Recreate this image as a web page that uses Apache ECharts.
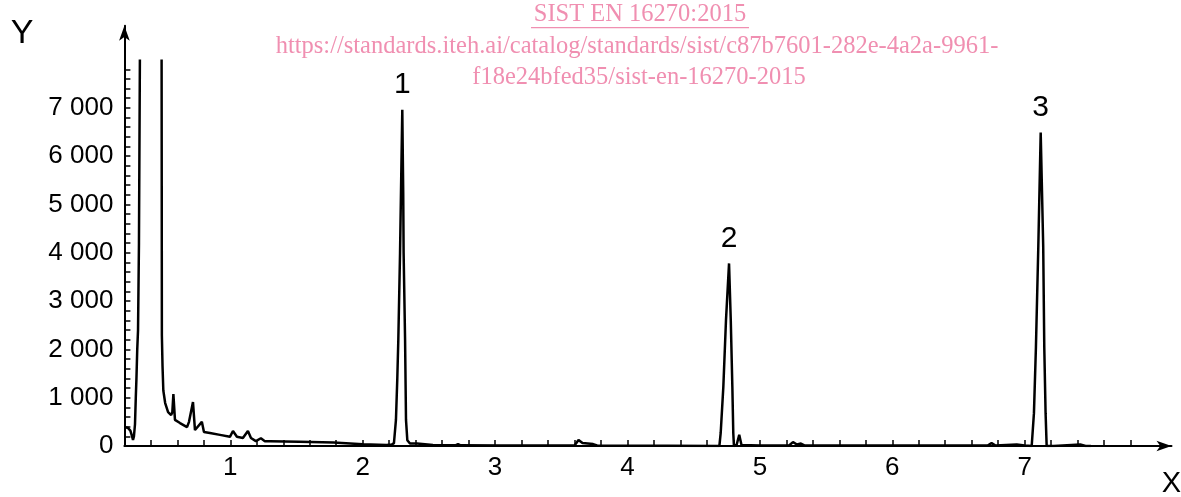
<!DOCTYPE html>
<html>
<head>
<meta charset="utf-8">
<script src="https://cdn.jsdelivr.net/npm/echarts@6/dist/echarts.min.js"></script>
<style>
html,body{margin:0;padding:0;background:#fff;}
#chart{width:1181px;height:497px;}
</style>
</head>
<body>
<div id="chart"></div>
<script>
// Retention time (X) and detector signal (Y); null = off-scale (clipped) section
const traceX = [0.200,0.225,0.245,0.258,0.265,0.272,0.280,0.286,0.291,0.297,0.303,0.310,0.317,0.400,
  0.481,0.483,0.488,0.494,0.508,0.530,0.553,0.562,0.570,0.582,0.620,0.673,0.688,0.718,0.733,0.748,0.785,0.801,0.846,0.922,0.997,
  1.020,1.050,1.095,1.133,1.156,1.193,1.231,1.261,1.300,1.520,1.780,2.000,2.180,2.220,
  2.236,2.251,2.261,2.269,2.282,2.289,2.299,2.306,2.309,2.320,2.327,2.337,2.357,2.410,2.530,2.700,2.720,2.740,3.040,
  3.600,3.630,3.660,3.740,3.770,4.300,
  4.694,4.704,4.724,4.744,4.767,4.780,4.792,4.799,4.804,4.824,4.844,4.861,5.000,5.220,5.250,5.280,5.310,5.340,5.800,
  6.720,6.750,6.780,6.940,7.000,
  7.053,7.070,7.085,7.103,7.121,7.140,7.148,7.158,7.166,7.180,7.220,7.420,7.460,7.500];
const traceY = [390,380,320,200,125,200,450,1000,1400,2000,2400,4200,8000,null,
  8000,2300,1650,1150,890,700,640,700,1075,540,475,390,500,910,330,290,500,290,270,230,190,
  310,190,165,310,165,100,160,100,100,90,70,35,20,30,
  60,540,1370,2200,4000,5240,6960,5240,4000,2200,540,120,50,50,20,15,40,15,10,
  10,125,60,40,10,5,
  0,270,1230,2610,3780,2610,1230,270,0,20,230,20,10,10,80,30,50,10,10,
  10,60,10,30,10,
  0,680,2050,4130,6490,4130,2050,680,0,40,0,30,0,0];

// Peak annotations
const peakNames = ['1','2','3'];
const peakX = [2.299, 4.767, 7.121];
const peakY = [6960, 3780, 6490];

// Axis ticks / labels
const xLabelValues = [1,2,3,4,5,6,7];
const yLabelValues = [0,1000,2000,3000,4000,5000,6000,7000];
const xTickValues = [];
for (let i = 2; i <= 39; i++) xTickValues.push(+(i * 0.2).toFixed(1));
const yTickValues = [];
for (let i = 0; i <= 39; i++) yTickValues.push(i * 200);

// Watermark lines
const watermark = [
  'SIST EN 16270:2015',
  'https://standards.iteh.ai/catalog/standards/sist/c87b7601-282e-4a2a-9961-',
  'f18e24bfed35/sist-en-16270-2015'
];

const pink = '#f08fb1';
const axisFont = 'Liberation Sans, Arial, sans-serif';
const serif = 'Liberation Serif, Times New Roman, serif';

const chart = echarts.init(document.getElementById('chart'), null, {renderer: 'canvas'});
const traceData = traceX.map((x, i) => [x, traceY[i] === null ? '-' : traceY[i]]);

chart.setOption({
  animation: false,
  backgroundColor: '#fff',
  title: [
    {text: watermark[0], left: 640, top: 2, textAlign: 'center', padding: 0,
     textStyle: {fontFamily: serif, fontSize: 24.5, fontWeight: 'normal', color: pink}},
    {text: watermark[1], left: 637, top: 34, textAlign: 'center', padding: 0,
     textStyle: {fontFamily: serif, fontSize: 24.5, fontWeight: 'normal', color: pink}},
    {text: watermark[2], left: 639, top: 65, textAlign: 'center', padding: 0,
     textStyle: {fontFamily: serif, fontSize: 24.5, fontWeight: 'normal', color: pink}}
  ],
  graphic: [
    {type: 'rect', left: 531, top: 27, shape: {width: 218, height: 1.2}, style: {fill: pink}}
  ],
  grid: {left: 124.4, right: 9.5, top: 25.8, bottom: 51, outerBoundsMode: 'none', containLabel: false},
  xAxis: {
    type: 'value', min: 0.2, max: 8.109,
    name: 'X', nameLocation: 'end', nameGap: 0,
    nameTextStyle: {fontFamily: axisFont, fontSize: 29, color: '#000', align: 'center', verticalAlign: 'top', padding: [23, 0, 0, 0]},
    axisLine: {onZero: false, symbol: ['none', 'arrow'], symbolSize: [8, 15], lineStyle: {color: '#000', width: 2}},
    axisTick: {inside: true, length: 6, customValues: xTickValues, lineStyle: {color: '#000', width: 1.5}},
    axisLabel: {customValues: xLabelValues, margin: 9, fontFamily: axisFont, fontSize: 26, color: '#000',
      formatter: v => String(Math.round(v))},
    splitLine: {show: false}
  },
  yAxis: {
    type: 'value', min: 0, max: 8700,
    name: 'Y', nameLocation: 'end', nameGap: -8,
    nameTextStyle: {fontFamily: axisFont, fontSize: 34, color: '#000', align: 'right', verticalAlign: 'middle', padding: [0, 91, 0, 0]},
    axisLine: {show: true, onZero: false, symbol: ['none', 'arrow'], symbolSize: [8, 15], lineStyle: {color: '#000', width: 2}},
    axisTick: {show: true, inside: true, length: 6, customValues: yTickValues, lineStyle: {color: '#000', width: 1.5}},
    axisLabel: {customValues: yLabelValues, margin: 11, fontFamily: axisFont, fontSize: 26, color: '#000',
      formatter: v => String(v).replace(/\B(?=(\d{3})+(?!\d))/g, ' ')},
    splitLine: {show: false}
  },
  series: [
    {
      type: 'line', data: traceData, showSymbol: false, symbol: 'none', connectNulls: false,
      lineStyle: {color: '#000', width: 2.5}, silent: true, z: 3
    },
    {
      type: 'scatter', symbolSize: 0, silent: true,
      itemStyle: {opacity: 1, color: '#000'},
      data: peakX.map((x, i) => ({name: peakNames[i], value: [x, peakY[i]]})),
      label: {show: true, position: 'top', distance: 10, formatter: p => p.name, opacity: 1,
        fontFamily: axisFont, fontSize: 30, color: '#000', textBorderWidth: 0}
    }
  ]
});
</script>
</body>
</html>
